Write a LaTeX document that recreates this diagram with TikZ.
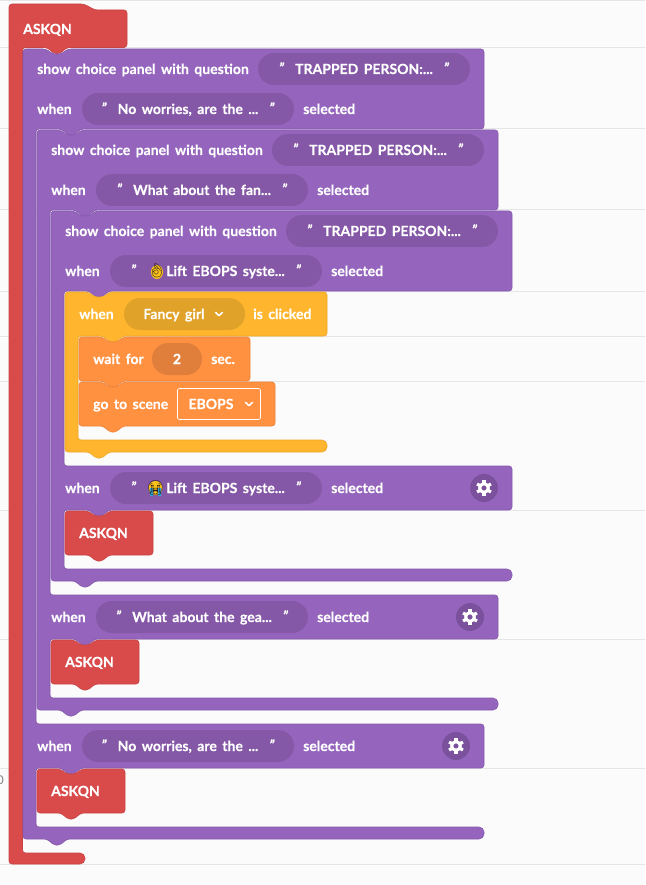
\documentclass[tikz,border=0pt]{standalone}
\usepackage{fontspec}
\setmainfont{Lato}[WordSpace=1.6,BoldFeatures={FakeBold=0.25},BoldItalicFeatures={FakeBold=0.25}]
\newfontfamily\emojifont{Noto Emoji}
\definecolor{pagebg}{HTML}{FBFBFB}
\definecolor{ruleline}{HTML}{E6E6E6}
\definecolor{askred}{HTML}{D94A4A}
\definecolor{askredline}{HTML}{C94444}
\definecolor{choicepurple}{HTML}{9565BD}
\definecolor{choiceline}{HTML}{8558AC}
\definecolor{choicepill}{HTML}{8458A6}
\definecolor{gearpill}{HTML}{7B519D}
\definecolor{clickyellow}{HTML}{FFB62E}
\definecolor{clickline}{HTML}{EDA628}
\definecolor{clickpill}{HTML}{E0A229}
\definecolor{waitorange}{HTML}{FF9141}
\definecolor{waitline}{HTML}{EC8339}
\definecolor{waitpill}{HTML}{E07F3B}
\definecolor{emojiyellow}{HTML}{FCC21B}
\definecolor{emojiblue}{HTML}{2CA8E0}
\definecolor{emojidark}{HTML}{2B2118}
\tikzset{
  askblock/.style={fill=askred,draw=askredline,line width=.6pt,rounded corners=3pt},
  choiceblock/.style={fill=choicepurple,draw=choiceline,line width=.6pt,rounded corners=3pt},
  clickblock/.style={fill=clickyellow,draw=clickline,line width=.6pt,rounded corners=3pt},
  waitblock/.style={fill=waitorange,draw=waitline,line width=.6pt,rounded corners=3pt},
  lbl/.style={text=white,font=\bfseries\fontsize{14}{14}\selectfont,inner sep=0pt,anchor=west,text height=11pt,text depth=1pt},
  pill/.style={lbl,anchor=center,rounded corners=16pt,minimum height=32pt,align=center},
  choicetext/.style={pill,fill=choicepill,minimum width=212pt},
  gearbase/.style={circle,fill=gearpill,minimum size=28pt,inner sep=0pt},
  chevron/.style={draw=white,line width=1.5pt,line cap=round,line join=round},
  emojiglyph/.style={text=emojidark,font=\emojifont\fontsize{14}{14}\selectfont,inner sep=0pt}
}
% notch in the top edge and tab under the bottom edge of a block at x
\newcommand{\notchat}[2]{-- ({#1+23},#2) [rounded corners=2pt] -- ({#1+30},{#2+5}) -- ({#1+38},{#2+5}) [rounded corners=3pt] -- ({#1+45},#2)}
\newcommand{\tabat}[2]{-- ({#1+44},#2) [rounded corners=2pt] -- ({#1+37},{#2+6}) -- ({#1+31},{#2+6}) [rounded corners=3pt] -- ({#1+24},#2)}
\newcommand{\quoted}[1]{\raisebox{1pt}{\textit{"}}\hspace{11pt}#1\hspace{11pt}\raisebox{1pt}{\textit{"}}}
\newcommand{\chevronat}[2]{\draw[chevron] ({#1-3.5},{#2-1.7}) -- (#1,{#2+1.7}) -- ({#1+3.5},{#2-1.7});}
\newcommand{\gearat}[3]{
  \node[gearbase] (#3) at (#1,#2) {};
  \foreach \a in {30,90,...,330}
    \draw[white,line width=3.2pt] (#3.center) ++(\a:5pt) -- ++(\a:3pt);
  \draw[white,line width=3pt] (#3.center) circle (4.3pt);
}
\begin{document}
\begin{tikzpicture}[x=1pt,y=-1pt]
  \useasboundingbox (0,0) rectangle (645,885);
  \fill[pagebg] (0,0) rectangle (645,885);
  \foreach \y in {1,48,129,210,291,336,381,510,639,768,864}
    \draw[ruleline,line width=1pt] (0,\y) -- (645,\y);
  \node[text=gray,font=\fontsize{12}{12}\selectfont,inner sep=0pt,anchor=east] (cutoff) at (4,780) {0};

  % outer askqn
  \draw[askblock] (9,4) -- (84,4) -- (95,10) -- (127,10) -- (127,47.5) \tabat{23}{47.5} -- (22.5,47.5) -- (22.5,853) [rounded corners=5pt] -- (85,853) -- (85,864) [rounded corners=3pt] -- (9,864) -- cycle;
  \node[lbl] (askOuter) at (23,29) {ASKQN};

  % first choice panel
  \draw[choiceblock] (23,49) \notchat{23}{49} -- (484,49) -- (484,129) \tabat{37}{129} -- (36,129) -- (36,724) -- (484,724) -- (484,768) \tabat{37}{768} -- (36,768) -- (36,827) [rounded corners=5pt] -- (484,827) -- (484,839) [rounded corners=3pt] \tabat{23}{839} -- (23,839) -- cycle;
  \node[lbl] (showA) at (37,69) {show choice panel with question};
  \node[choicetext] (questionA) at (364,69) {\quoted{TRAPPED PERSON:...}};
  \node[lbl] (whenA) at (37,109) {when};
  \node[choicetext] (answerA) at (188,109) {\quoted{No worries, are the ...}};
  \node[lbl] (selectedA) at (303,109) {selected};
  \node[lbl] (whenAb) at (37,746) {when};
  \node[choicetext] (answerAb) at (188,746) {\quoted{No worries, are the ...}};
  \node[lbl] (selectedAb) at (303,746) {selected};
  \gearat{456}{746}{gearA}
  \draw[askblock] (37,769) \notchat{37}{769} -- (125,769) -- (125,813) \tabat{37}{813} -- (37,813) -- cycle;
  \node[lbl] (askA) at (51,791) {ASKQN};

  % second choice panel
  \draw[choiceblock] (37,130) \notchat{37}{130} -- (498,130) -- (498,210) \tabat{51}{210} -- (50,210) -- (50,595) -- (498,595) -- (498,639) \tabat{51}{639} -- (50,639) -- (50,698) [rounded corners=5pt] -- (498,698) -- (498,710) [rounded corners=3pt] \tabat{37}{710} -- (37,710) -- cycle;
  \node[lbl] (showB) at (51,150) {show choice panel with question};
  \node[choicetext] (questionB) at (378,150) {\quoted{TRAPPED PERSON:...}};
  \node[lbl] (whenB) at (51,190) {when};
  \node[choicetext] (answerB) at (202,190) {\quoted{What about the fan...}};
  \node[lbl] (selectedB) at (317,190) {selected};
  \node[lbl] (whenBb) at (51,617) {when};
  \node[choicetext] (answerBb) at (202,617) {\quoted{What about the gea...}};
  \node[lbl] (selectedBb) at (317,617) {selected};
  \gearat{470}{617}{gearB}
  \draw[askblock] (51,640) \notchat{51}{640} -- (139,640) -- (139,684) \tabat{51}{684} -- (51,684) -- cycle;
  \node[lbl] (askB) at (65,662) {ASKQN};

  % third choice panel
  \draw[choiceblock] (51,211) \notchat{51}{211} -- (512,211) -- (512,291) \tabat{65}{291} -- (64,291) -- (64,466) -- (512,466) -- (512,510) \tabat{65}{510} -- (64,510) -- (64,569) [rounded corners=5pt] -- (512,569) -- (512,581) [rounded corners=3pt] \tabat{51}{581} -- (51,581) -- cycle;
  \node[lbl] (showC) at (65,231) {show choice panel with question};
  \node[choicetext] (questionC) at (392,231) {\quoted{TRAPPED PERSON:...}};
  \node[lbl] (whenC) at (65,271) {when};
  \node[choicetext] (answerC) at (216,271) {\quoted{\hspace{19pt}Lift EBOPS syste...}};
  \fill[emojiyellow] (157,272) ellipse (6pt and 7pt);
  \node[emojiglyph] (emojiOk) at (157,271) {👌};
  \node[lbl] (selectedC) at (331,271) {selected};
  \node[lbl] (whenCb) at (65,488) {when};
  \node[choicetext] (answerCb) at (216,488) {\quoted{\hspace{19pt}Lift EBOPS syste...}};
  \fill[emojiyellow] (155.5,488) circle (7pt);
  \fill[emojiblue] (150,488) rectangle (153,496) (158,488) rectangle (161,496);
  \node[emojiglyph] (emojiCry) at (155.5,488) {😭};
  \node[lbl] (selectedCb) at (331,488) {selected};
  \gearat{484}{488}{gearC}
  \draw[askblock] (65,511) \notchat{65}{511} -- (153,511) -- (153,555) \tabat{65}{555} -- (65,555) -- cycle;
  \node[lbl] (askC) at (79,533) {ASKQN};

  % clicked block
  \draw[clickblock] (65,292) \notchat{65}{292} -- (327,292) -- (327,336) \tabat{79}{336} -- (78,336) -- (78,440) [rounded corners=5pt] -- (327,440) -- (327,452) [rounded corners=3pt] \tabat{65}{452} -- (65,452) -- cycle;
  \node[lbl] (whenClick) at (79,314) {when};
  \node[pill,fill=clickpill,minimum width=121pt] (girlPill) at (184.5,314) {Fancy girl\kern21pt};
  \chevronat{219}{314}
  \node[lbl] (isClicked) at (253,314) {is clicked};

  % wait and go to scene
  \draw[waitblock] (79,337) \notchat{79}{337} -- (250,337) -- (250,381) \tabat{79}{381} -- (79,381) -- cycle;
  \node[lbl] (waitFor) at (93,359) {wait for};
  \node[pill,fill=waitpill,minimum width=50pt] (waitPill) at (177,359) {2};
  \node[lbl] (waitSec) at (211,359) {sec.};
  \draw[waitblock] (79,382) \notchat{79}{382} -- (275,382) -- (275,426) \tabat{79}{426} -- (79,426) -- cycle;
  \node[lbl] (goScene) at (93,404) {go to scene};
  \node[lbl,anchor=center,draw=white,line width=.7pt,rounded corners=2pt,minimum width=83pt,minimum height=31pt,align=center] (sceneBox) at (219,404) {EBOPS\kern16pt};
  \chevronat{249}{404}
\end{tikzpicture}
\end{document}
